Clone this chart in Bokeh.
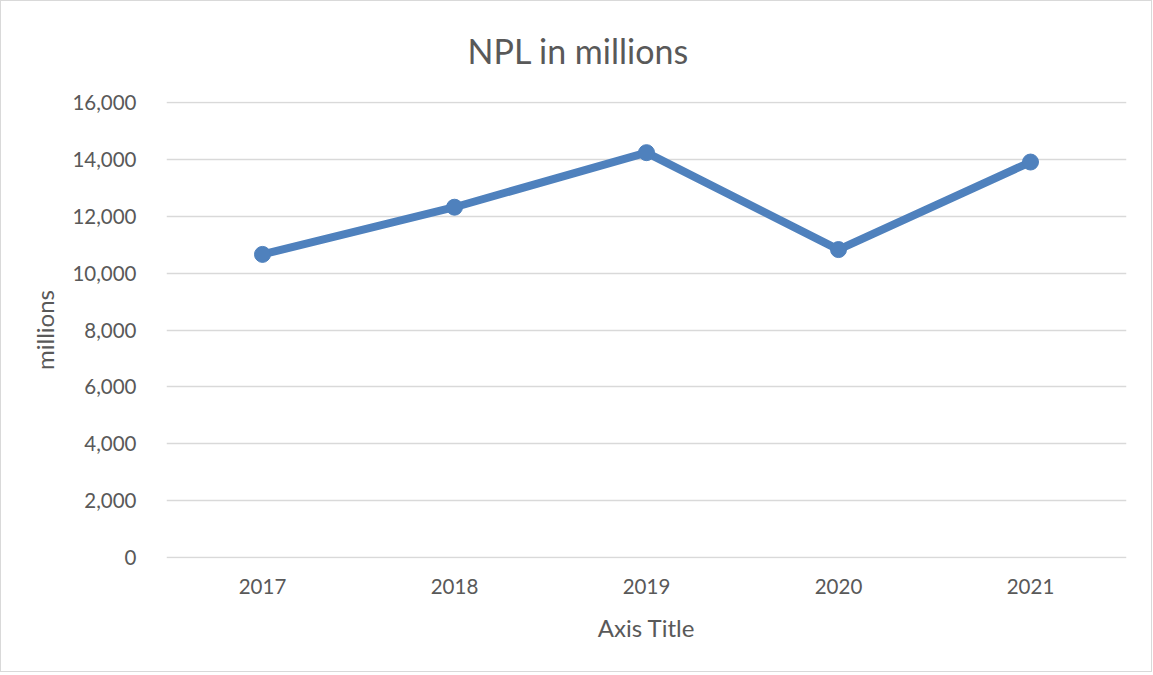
from bokeh.plotting import figure
from bokeh.models import Range1d, FixedTicker, NumeralTickFormatter, ColumnDataSource
from bokeh.embed import file_html
from bokeh.resources import INLINE

years = ["2017", "2018", "2019", "2020", "2021"]
npl = [10660, 12320, 14240, 10830, 13910]
y_ticks = [0, 2000, 4000, 6000, 8000, 10000, 12000, 14000, 16000]

FONT = "Lato"
TXT = "#595959"
GRID = "#d9d9d9"
BLUE = "#4f81bd"

src = ColumnDataSource(dict(year=years, npl=npl))

W, H = 1152, 672
p = figure(x_range=years, y_range=Range1d(-40, 16040), width=W, height=H,
           output_backend="svg", toolbar_location=None,
           min_border_left=165, min_border_right=W - 1125, min_border_bottom=H - 557,
           min_border_top=100)
p.outline_line_color = None
p.styles = {"border": "1px solid #d9d9d9"}

p.title.text = "NPL in millions"
p.title.align = "left"
p.title.vertical_align = "top"
p.title.offset = 301
p.title.text_font = FONT
p.title.text_font_size = "34px"
p.title.text_font_style = "normal"
p.title.text_color = TXT
p.title.standoff = 57

p.line("year", "npl", source=src, line_color=BLUE, line_width=8)
p.scatter("year", "npl", source=src, size=16, fill_color=BLUE, line_color=BLUE)

p.yaxis.ticker = FixedTicker(ticks=y_ticks)
p.yaxis.formatter = NumeralTickFormatter(format="0,0")
p.yaxis.axis_line_color = None
p.yaxis.major_tick_line_color = None
p.yaxis.minor_tick_line_color = None
p.yaxis.major_label_standoff = 24
p.yaxis.axis_label = "millions"
p.yaxis.axis_label_standoff = 10

p.xaxis.axis_line_color = None
p.xaxis.major_tick_line_color = None
p.xaxis.major_label_standoff = 14
p.xaxis.axis_label = "Axis Title"
p.xaxis.axis_label_standoff = 16

for ax in (p.xaxis, p.yaxis):
    ax.major_label_text_font = FONT
    ax.major_label_text_font_size = "20.5px"
    ax.major_label_text_color = TXT
    ax.axis_label_text_font = FONT
    ax.axis_label_text_font_size = "24px"
    ax.axis_label_text_font_style = "normal"
    ax.axis_label_text_color = TXT

p.xgrid.grid_line_color = None
p.ygrid.grid_line_color = GRID
p.ygrid.grid_line_width = 1.5
p.ygrid.ticker = FixedTicker(ticks=y_ticks)

open("out.html", "w").write(file_html(p, INLINE))
